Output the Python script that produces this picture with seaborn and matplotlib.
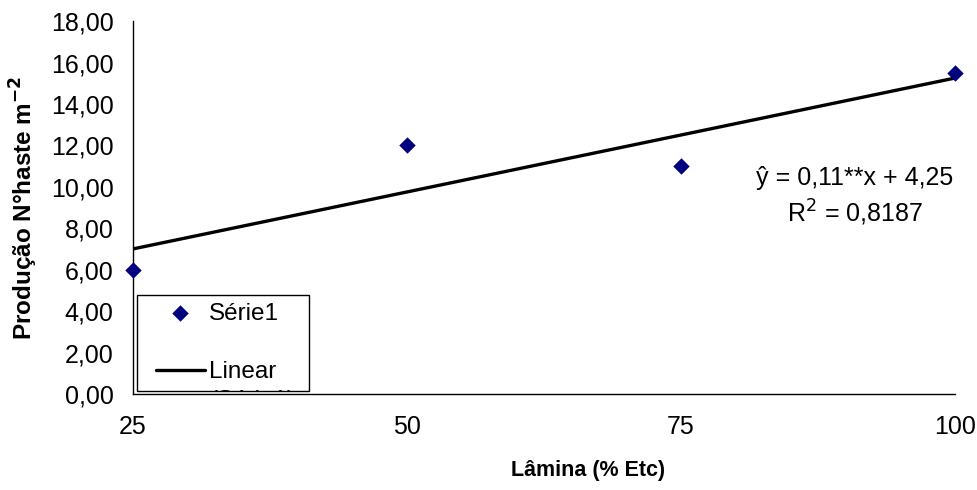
import matplotlib
matplotlib.use("Agg")
import matplotlib.pyplot as plt
import seaborn as sns
import numpy as np
import pandas as pd
from matplotlib.ticker import FuncFormatter
from matplotlib.patches import Rectangle

lamina = [25, 50, 75, 100]
producao = [6.0, 12.0, 11.0, 15.5]
slope = 0.11
intercept = 4.25
xticks = [25, 50, 75, 100]
yticks = [0, 2, 4, 6, 8, 10, 12, 14, 16, 18]

sns.set_theme(style="white")
plt.rcParams['font.family'] = ['Liberation Sans', 'DejaVu Sans']
plt.rcParams['text.color'] = 'black'
plt.rcParams['axes.labelcolor'] = 'black'

fig = plt.figure(figsize=(9.77, 4.90), dpi=100)
ax = fig.add_axes([0.136, 0.196, 0.8415, 0.761])

df = pd.DataFrame({"x": lamina, "y": producao})
fit_x = np.array([lamina[0], lamina[-1]])
fit_df = pd.DataFrame({"x": fit_x, "y": slope * fit_x + intercept})

sns.scatterplot(data=df, x="x", y="y", ax=ax, marker="D", s=70, color="#000080",
                edgecolor="#000080", linewidth=0, label="Série1", zorder=4, clip_on=False)
sns.lineplot(data=fit_df, x="x", y="y", ax=ax, color="black", linewidth=2.4,
             label="Linear", zorder=3)

ax.set_xlim(25, 100)
ax.set_ylim(0, 18)
ax.set_xticks(xticks)
ax.set_yticks(yticks)
ax.yaxis.set_major_formatter(FuncFormatter(lambda v, p: f"{v:.2f}".replace(".", ",")))
ax.tick_params(axis="both", labelsize=18, colors="black", length=6, width=1, direction="out")
ax.tick_params(axis="x", pad=9)
ax.tick_params(axis="y", pad=8)
for s in ["top", "right"]:
    ax.spines[s].set_visible(False)
for s in ["left", "bottom"]:
    ax.spines[s].set_color("black")
    ax.spines[s].set_linewidth(1)

ax.set_xlabel("Lâmina (% Etc)", fontsize=15.5, fontweight="bold", color="black")
ax.xaxis.set_label_coords(0.554, -0.178)
ax.set_ylabel("Produção N°haste m$^{\\mathbf{-2}}$", fontsize=17.5, fontweight="bold",
              labelpad=8, color="black")

ax.text(0.878, 0.579, "ŷ = 0,11**x + 4,25", transform=ax.transAxes, fontsize=18,
        ha="center", va="center", color="black")
ax.text(0.878, 0.485, "R$^2$ = 0,8187", transform=ax.transAxes, fontsize=18,
        ha="center", va="center", color="black")

# legend box
box = Rectangle((0.005, 0.008), 0.209, 0.257, transform=ax.transAxes, facecolor="white",
                edgecolor="black", linewidth=1, zorder=5, clip_on=False)
ax.add_patch(box)
leg = ax.legend(loc="upper left", bbox_to_anchor=(0.028, 0.245), fontsize=17.5, frameon=False,
                borderpad=0, handlelength=2.0, labelspacing=1.5, handletextpad=0.2,
                borderaxespad=0, labelcolor="black")
leg.set_zorder(6)

fig.canvas.draw()
ext = leg.get_texts()[1].get_window_extent()
inv = ax.transAxes.inverted()
x0, y0 = inv.transform((ext.x0, ext.y0))
extra = ax.text(x0, y0 - 0.018, "(Série1)", transform=ax.transAxes, fontsize=17.5,
                ha="left", va="top", zorder=6, clip_on=True, color="black")
extra.set_clip_path(box)

fig.savefig("out.png", dpi=100)
